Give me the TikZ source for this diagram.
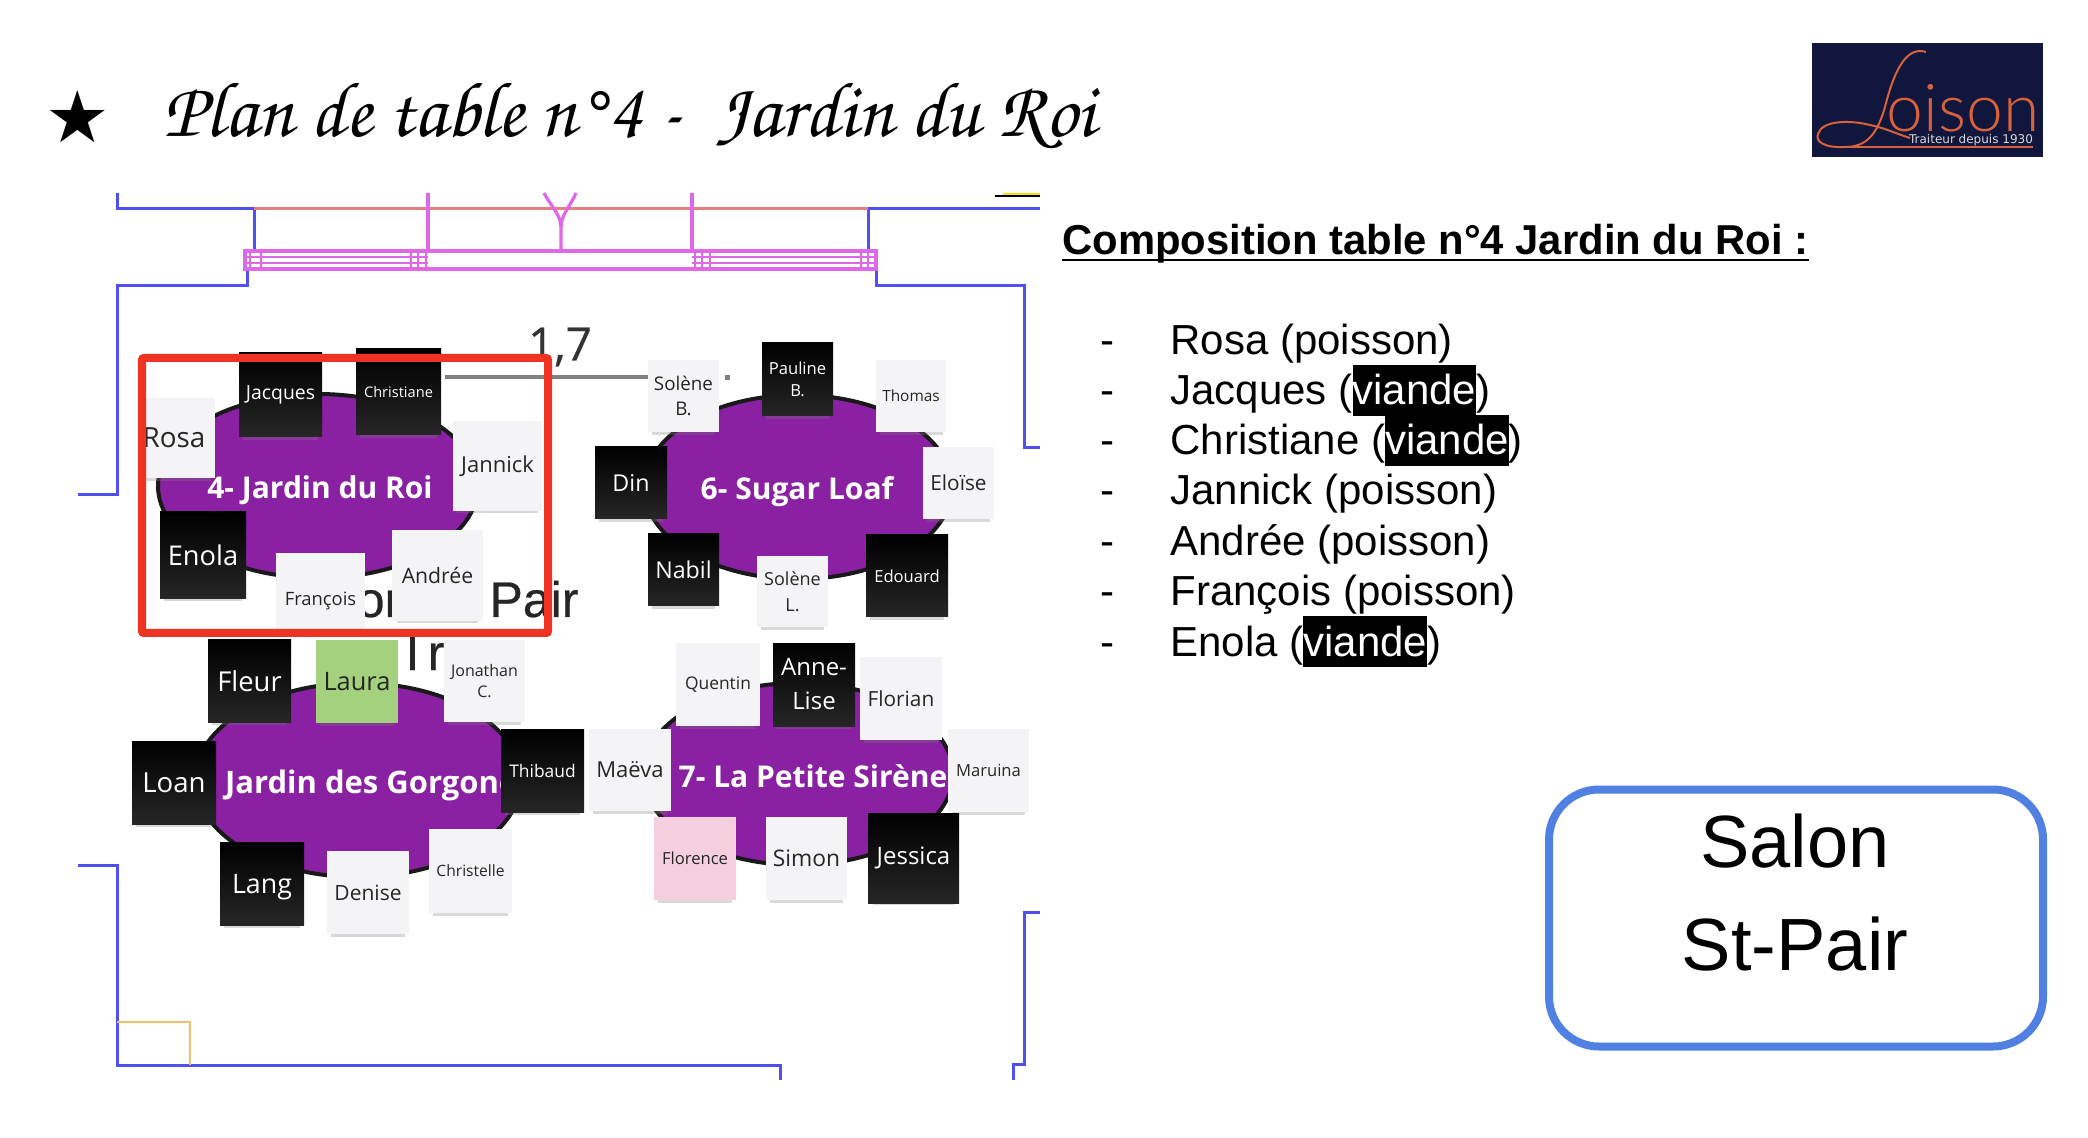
\documentclass[tikz,border=0pt]{standalone}
\usepackage[T1]{fontenc}
\usepackage{fontspec}
\setmainfont{Liberation Sans}
\newfontfamily\opensans{Open Sans}
\newfontfamily\symbfont{DejaVu Sans}
\newfontfamily\logofont{Lato Light}
\newfontface\roomfont[FakeBold=0.5]{Liberation Sans}
\newfontface\dimfont[FakeBold=0.5]{Open Sans}
\usetikzlibrary{shapes.geometric, shadows, positioning}

\definecolor{planblue}{HTML}{5050F0}
\definecolor{planred}{HTML}{E88080}
\definecolor{planpink}{HTML}{E066EA}
\definecolor{planorange}{HTML}{F0C070}
\definecolor{tablepurple}{HTML}{8A20A2}
\definecolor{framered}{HTML}{EE3224}
\definecolor{notewhite}{HTML}{F4F4F6}
\definecolor{notegreen}{HTML}{A3D17E}
\definecolor{notepink}{HTML}{F6CFDF}
\definecolor{logonavy}{HTML}{10163C}
\definecolor{logoorange}{HTML}{D8623C}
\definecolor{salonblue}{HTML}{4F80E2}

\tikzset{
  sz/.style 2 args={minimum width=#1*0.5pt, minimum height=#2*0.5pt, inner sep=0pt},
  fs/.style={font=\opensans\fontsize{#1}{#1}\selectfont},
  note/.style={align=center, drop shadow={shadow xshift=0pt, shadow yshift=-3.8pt, opacity=.3, shadow scale=.9}},
  notew/.style={note, fill=notewhite, text=black!85},
  noteb/.style={note, top color=black, bottom color=black!85!white, text=white},
  plan/.style={draw=planblue, line width=1.5pt},
  planp/.style={draw=planpink, line width=1.6pt},
  tablee/.style={ellipse, draw=black!90, line width=2pt, fill=tablepurple, inner sep=0pt},
  tablename/.style={text=white, font=\opensans\bfseries\fontsize{#1}{#1}\selectfont},
  listline/.style={anchor=base west, inner sep=0pt, font=\fontsize{21}{24}\selectfont},
  listdash/.style={anchor=base west, inner sep=0pt, font=\fontsize{21}{24}\selectfont},
  roomword/.style={inner sep=0pt, anchor=base, text=black!85, font=\roomfont\fontsize{25}{25}\selectfont},
}
\newcommand{\viande}{{\fboxsep=0pt\colorbox{black}{\rule[-5.5pt]{0pt}{25.5pt}\textcolor{white}{viande}}}}

\begin{document}
\begin{tikzpicture}[x=0.5pt, y=-0.5pt]
        \useasboundingbox (0,0) rectangle (2088,1138);

        % Title
        \node[inner sep=0pt, font=\symbfont\fontsize{36}{36}\selectfont] (star) at (78,117) {★};
        \node[inner sep=0pt, anchor=base west] (title) at (163,137) {\resizebox{466pt}{!}{\fontencoding{T1}\fontfamily{pzc}\fontseries{mb}\fontshape{it}\fontsize{40}{40}\selectfont Plan de table n\textdegree 4 -\ \ Jardin du Roi}};

        % Logo
        \node[fill=logonavy, minimum width=115.5pt, minimum height=57pt, inner sep=0pt] (logo) at (1927.5,100) {};
        \draw[logoorange, line width=1pt] (1926,52) .. controls (1905,45) and (1893,75) .. (1885,107) .. controls (1877,135) and (1866,147) .. (1845,147) .. controls (1825,148) and (1815,142) .. (1818,134) .. controls (1822,120) and (1850,120) .. (1870,125) .. controls (1885,128) and (1897,134) .. (1910,138);
        \draw[logoorange, line width=.7pt] (1835,147) -- (2033,147);
        \node[inner sep=0pt, anchor=base, text=logoorange, font=\logofont\fontsize{33}{33}\selectfont] (logotext) at (1963,132) {oison};
        \node[inner sep=0pt, text=black!15, font=\symbfont\fontsize{6}{6}\selectfont] (logosub) at (1971,140) {Traiteur depuis 1930};

        % Plan walls
        \draw[plan] (117,193) -- (117,209) -- (254,209);
        \draw[plan] (868,209) -- (1040,209);
        \draw[plan] (254,209) -- (254,252);
        \draw[plan] (868,209) -- (868,252);
        \draw[plan] (78,495) -- (117,495) -- (117,286) -- (247,286) -- (247,269);
        \draw[plan] (876,269) -- (876,286) -- (1024,286) -- (1024,448) -- (1040,448);
        \draw[plan] (78,865) -- (117,865) -- (117,1065) -- (780,1065) -- (780,1080);
        \draw[plan] (1040,912) -- (1024,912) -- (1024,1064) -- (1013,1064) -- (1013,1080);
        \draw[planred, line width=1.5pt] (254,209) -- (868,209);
        \draw[planorange, line width=1.2pt] (117,1022) -- (190,1022) -- (190,1065);
        \draw[black, line width=1pt] (995,196) -- (1040,196);
        \draw[yellow!80!orange, line width=1pt] (1003,194) -- (1040,194);

        % Stage
        \draw[planp] (245,251) rectangle (876,269);
        \draw[planp, line width=1.2pt] (245,257) -- (428,257) (245,263) -- (428,263);
        \draw[planp, line width=1.2pt] (692,257) -- (876,257) (692,263) -- (876,263);
        \foreach \xs in {250,261,411,418,426,695,702,710,861,868} {
            \draw[planp, line width=1.2pt] (\xs,251) -- (\xs,269);
        }
        \draw[planp] (428,193) -- (428,251);
        \draw[planp] (692,193) -- (692,251);
        \draw[planp] (561,252) -- (561,227) .. controls (561,215) and (550,205) .. (544,193);
        \draw[planp] (561,227) .. controls (561,215) and (571,205) .. (576,193);

        % Room text under the notes
        \node[inner sep=0pt, text=black!80, font=\dimfont\fontsize{23}{23}\selectfont] (dim) at (560,347) {1,7};
        \draw[gray, line width=2pt] (445,377) -- (654,377);
        \node[draw=gray, fill=gray, minimum size=2pt, inner sep=0pt] (dimdot) at (727,377) {};
        \node[roomword] (wordor) at (379,617) {or};
        \node[roomword] (wordpair) at (534,617) {Pair};
        \node[roomword] (wordir) at (425,670) {I\,r};

        % Table 4
        \node[tablee, minimum width=160pt, minimum height=92pt] (table4) at (318,486) {};
        \node[tablename=15] (name4) at (320,490) {4- Jardin du Roi};
        \node[notew, sz={76}{80}, fs=13.9] (rosa) at (177,438) {\hspace*{-3pt}Rosa};
        \node[noteb, sz={83}{84}, fs=9.7] (jacques) at (280.5,395) {Jacques};
        \node[noteb, sz={85}{86}, fs=7.3] (christiane) at (398.5,392) {Christiane};
        \node[notew, sz={89}{90}, fs=11] (jannick) at (497.5,466) {Jannick};
        \node[noteb, sz={86}{87}, fs=13.6] (enola) at (203,555.5) {Enola};
        \node[notew, sz={89}{77}, fs=9.2] (francois) at (320.5,591.5) {\raisebox{-6.75pt}[0pt][0pt]{François}};
        \node[notew, sz={91}{91}, fs=10.6] (andree) at (437.5,575.5) {Andrée};

        % Table 6
        \node[tablee, minimum width=154pt, minimum height=92pt] (table6) at (798,487) {};
        \node[tablename=15] (name6) at (797,492) {6- Sugar Loaf};
        \node[notew, sz={71}{72}, fs=9.4] (soleneb) at (683.5,396) {Solène\\[3pt]B.};
        \node[noteb, sz={71}{73}, fs=8.3] (paulineb) at (797.5,379.5) {Pauline\\[3pt]B.};
        \node[notew, sz={70}{72}, fs=7.7] (thomas) at (911,396) {Thomas};
        \node[noteb, sz={72}{72}, fs=11.6] (din) at (631,483) {Din};
        \node[notew, sz={71}{72}, fs=10.4] (eloise) at (958.5,483) {Eloïse};
        \node[noteb, sz={71}{72}, fs=11.6] (nabil) at (683.5,570) {Nabil};
        \node[notew, sz={71}{71}, fs=9] (solenel) at (792.5,591.5) {Solène\\[3.8pt]L.};
        \node[noteb, sz={82}{82}, fs=8.3] (edouard) at (907,576) {Edouard};

        % Table 5
        \node[tablee, minimum width=163pt, minimum height=97pt] (table5) at (358,780) {};
        \node[tablename=15.5] (name5) at (361,785) {5- Jardin des Gorgones};
        \node[noteb, sz={83}{82}, fs=13.7] (fleur) at (249.5,681) {Fleur};
        \node[note, fill=notegreen, text=black!85, sz={82}{83}, fs=12.7] (laura) at (357,681.5) {Laura};
        \node[notew, sz={81}{82}, fs=8] (jonathanc) at (484.5,681) {Jonathan\\[2.5pt]C.};
        \node[noteb, sz={84}{83}, fs=13.8] (loan) at (174,782.5) {Loan};
        \node[noteb, sz={83}{83}, fs=8.7] (thibaud) at (542.5,770.5) {Thibaud};
        \node[noteb, sz={84}{83}, fs=13.4] (lang) at (262,883.5) {\raisebox{-5.15pt}[0pt][0pt]{Lang}};
        \node[notew, sz={82}{83}, fs=10.5] (denise) at (368,892.5) {Denise};
        \node[notew, sz={83}{84}, fs=7.8] (christelle) at (470.5,871) {Christelle};

        % Table 7
        \node[tablee, minimum width=155pt, minimum height=91pt] (table7) at (798,774) {};
        \node[tablename=15] (name7) at (813,776) {7- La Petite Sirène};
        \node[notew, sz={84}{83}, fs=8.7] (quentin) at (718,684.5) {Quentin};
        \node[noteb, sz={82}{83}, fs=12] (annelise) at (814,684.5) {Anne-\\[5pt]Lise};
        \node[notew, sz={82}{83}, fs=10.4] (florian) at (901,698.5) {Florian};
        \node[notew, sz={82}{82}, fs=11] (maeva) at (630,770) {Maëva};
        \node[notew, sz={81}{83}, fs=8.3] (maruina) at (988.5,770.5) {Maruina};
        \node[note, fill=notepink, text=black!85, sz={82}{83}, fs=8.3] (florence) at (695,858.5) {Florence};
        \node[notew, sz={81}{83}, fs=11.4] (simon) at (806.5,858.5) {Simon};
        \node[noteb, sz={91}{90}, fs=12] (jessica) at (913.5,858) {Jessica};

        % Red frame
        \node[draw=framered, line width=4pt, rounded corners=1pt, minimum width=203pt, minimum height=137.5pt, inner sep=0pt] (frame4) at (345,495.5) {};

        % Composition
        \node[anchor=base west, inner sep=0pt, font=\bfseries\fontsize{20.9}{24}\selectfont] (comptitle) at (1062,255) {Composition table n°4 Jardin du Roi :};
        \draw[line width=1.2pt] ([yshift=-2.6pt]comptitle.base west) -- ([yshift=-2.6pt]comptitle.base east);

        \node[listdash] (dash1) at (1100,355) {-};
        \node[listdash] (dash2) at (1100,405) {-};
        \node[listdash] (dash3) at (1100,455) {-};
        \node[listdash] (dash4) at (1100,505) {-};
        \node[listdash] (dash5) at (1100,556) {-};
        \node[listdash] (dash6) at (1100,606) {-};
        \node[listdash] (dash7) at (1100,656) {-};
        \node[listline] (guest1) at (1170,355) {Rosa (poisson)};
        \node[listline] (guest2) at (1170,405) {Jacques (\viande)};
        \node[listline] (guest3) at (1170,455) {Christiane (\viande)};
        \node[listline] (guest4) at (1170,505) {Jannick (poisson)};
        \node[listline] (guest5) at (1170,556) {Andrée (poisson)};
        \node[listline] (guest6) at (1170,606) {François (poisson)};
        \node[listline] (guest7) at (1170,656) {Enola (\viande)};

        % Salon box
        \node[draw=salonblue, line width=4pt, rounded corners=25pt, minimum width=247pt, minimum height=128.5pt, inner sep=0pt] (salon) at (1796,918) {};
        \node[inner sep=0pt, align=center, font=\fontsize{37}{51.5}\selectfont] (salonname) at (1795,893) {Salon\\St-Pair};

    \end{tikzpicture}
\end{document}
